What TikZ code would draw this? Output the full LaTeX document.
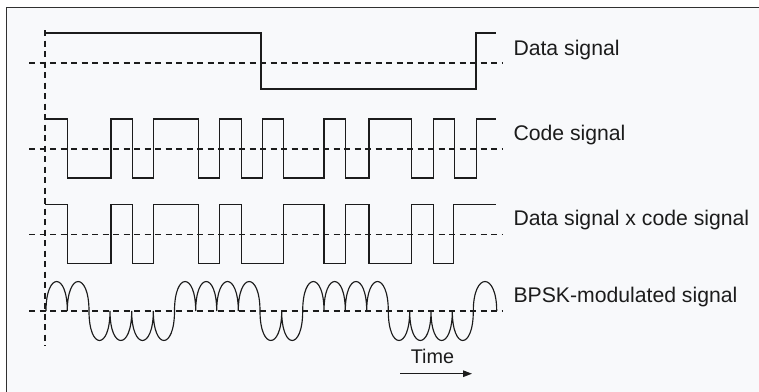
\documentclass[tikz,border=0pt]{standalone}
\usepackage{fontspec}
\setmainfont{Liberation Sans}
\usetikzlibrary{arrows.meta}
\definecolor{bgc}{HTML}{F8F9FB}
\definecolor{ink}{HTML}{1C1C1C}
\definecolor{framec}{HTML}{303030}
\tikzset{
  sig/.style={draw=ink, line width=1.15pt, line join=miter},
  midline/.style={draw=ink, line width=1.05pt, dash pattern=on 6pt off 4.5pt},
  lbl/.style={anchor=base west, inner sep=0pt, text=ink, font=\fontsize{21.2}{24}\selectfont},
  timelbl/.style={anchor=base, inner sep=0pt, text=ink, font=\fontsize{19.8}{22}\selectfont},
  timearrow/.style={draw=ink, line width=1.2pt, -{Triangle[length=9pt,width=6.5pt]}}
}
\begin{document}
\begin{tikzpicture}[x=1pt,y=-1pt]
\useasboundingbox (0,0) rectangle (759,391);
\clip (0,0) rectangle (759,391);
\fill[white] (0,0) rectangle (759,391);
\filldraw[fill=bgc, draw=framec, line width=1.3pt] (6.5,7.5) rectangle (780,410);

% time axis (vertical dashed) and mid lines
\draw[midline] (45,30) -- (45,346);
\draw[midline] (29,63) -- (502,63);
\draw[midline] (29,149) -- (502,149);
\draw[midline] (29,234.3) -- (502,234.3);
\draw[midline] (29,311) -- (502,311);

% data signal
\draw[sig] (45,30) -- (45,33) -- (261,33) -- (261,89) -- (476,89) -- (476,33) -- (496,33);

% code signal
\draw[sig] (45,119) -- (67.7,119) -- (67.7,178) -- (111,178) -- (111,119) -- (132.3,119)
  -- (132.3,178) -- (153.7,178) -- (153.7,119) -- (198.7,119) -- (198.7,178) -- (219.7,178)
  -- (219.7,119) -- (241.3,119) -- (241.3,178) -- (262.7,178) -- (262.7,119) -- (283.7,119)
  -- (283.7,178) -- (324,178) -- (324,119) -- (345.3,119) -- (345.3,178) -- (369,178)
  -- (369,119) -- (411.7,119) -- (411.7,178) -- (433.7,178) -- (433.7,119) -- (454.3,119)
  -- (454.3,178) -- (476.3,178) -- (476.3,119) -- (496,119);

% data x code signal
\draw[sig] (45,204.7) -- (67.7,204.7) -- (67.7,263.3) -- (111,263.3) -- (111,204.7) -- (132.3,204.7)
  -- (132.3,263.3) -- (153.7,263.3) -- (153.7,204.7) -- (198.7,204.7) -- (198.7,263.3) -- (219.7,263.3)
  -- (219.7,204.7) -- (241.3,204.7) -- (241.3,263.3) -- (283.3,263.3) -- (283.3,204.7) -- (324,204.7)
  -- (324,263.3) -- (345.3,263.3) -- (345.3,204.7) -- (369,204.7) -- (369,263.3) -- (411.7,263.3)
  -- (411.7,204.7) -- (433.3,204.7) -- (433.3,263.3) -- (453.3,263.3) -- (453.3,204.7) -- (496,204.7);

% BPSK-modulated signal
\draw[sig] (46,311)
  \foreach \a/\b/\s in {46/67.3/1, 67.3/89/1, 89/110/-1, 110/131.7/-1, 131.7/153.3/-1, 153.3/174.5/-1,
    174.5/195.7/1, 195.7/216.7/1, 216.7/238.3/1, 238.3/260/1, 260/281.7/-1, 281.7/302.7/-1,
    302.7/324/1, 324/345.3/1, 345.3/366.7/1, 366.7/388.3/1, 388.3/409.7/-1, 409.7/431/-1,
    431/452.3/-1, 452.3/473.3/-1, 473.3/496.7/1}
  { .. controls (\a,{311-39.3*\s}) and (\b,{311-39.3*\s}) .. (\b,311) };

% labels
\node[lbl] (ldata) at (513.3,55) {Data signal};
\node[lbl] (lcode) at (513.3,140.7) {Code signal};
\node[lbl] (lprod) at (513.3,225) {Data signal x code signal};
\node[lbl] (lbpsk) at (513.3,302.7) {BPSK-modulated signal};

% time arrow
\node[timelbl] (ltime) at (432.4,363.3) {Time};
\coordinate (tstart) at (400,373.7);
\coordinate (tend) at (472,373.7);
\draw[timearrow] (tstart) -- (tend);
\end{tikzpicture}
\end{document}
